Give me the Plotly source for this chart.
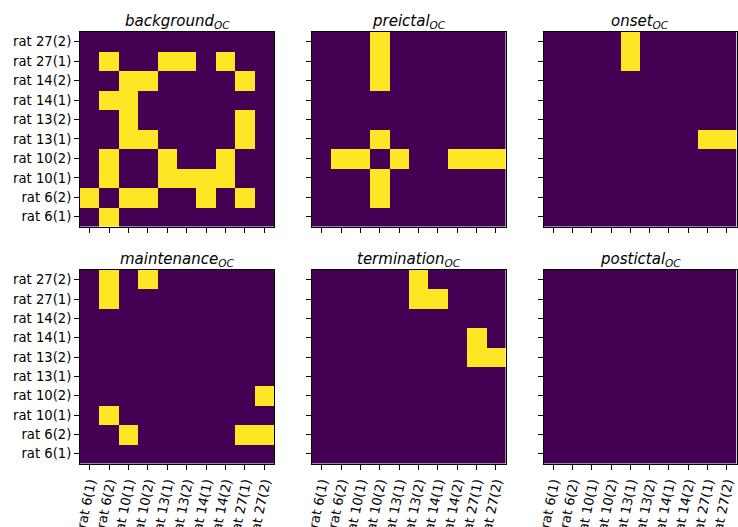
import plotly.graph_objects as go

labels = ["rat 6(1)", "rat 6(2)", "rat 10(1)", "rat 10(2)", "rat 13(1)",
          "rat 13(2)", "rat 14(1)", "rat 14(2)", "rat 27(1)", "rat 27(2)"]

# rows ordered bottom (rat 6(1)) to top (rat 27(2)); columns in label order
background = [
    [0, 1, 0, 0, 0, 0, 0, 0, 0, 0],
    [1, 0, 1, 1, 0, 0, 1, 0, 1, 0],
    [0, 1, 0, 0, 1, 1, 1, 1, 0, 0],
    [0, 1, 0, 0, 1, 0, 0, 1, 0, 0],
    [0, 0, 1, 1, 0, 0, 0, 0, 1, 0],
    [0, 0, 1, 0, 0, 0, 0, 0, 1, 0],
    [0, 1, 1, 0, 0, 0, 0, 0, 0, 0],
    [0, 0, 1, 1, 0, 0, 0, 0, 1, 0],
    [0, 1, 0, 0, 1, 1, 0, 1, 0, 0],
    [0, 0, 0, 0, 0, 0, 0, 0, 0, 0],
]
preictal = [
    [0, 0, 0, 0, 0, 0, 0, 0, 0, 0],
    [0, 0, 0, 1, 0, 0, 0, 0, 0, 0],
    [0, 0, 0, 1, 0, 0, 0, 0, 0, 0],
    [0, 1, 1, 0, 1, 0, 0, 1, 1, 1],
    [0, 0, 0, 1, 0, 0, 0, 0, 0, 0],
    [0, 0, 0, 0, 0, 0, 0, 0, 0, 0],
    [0, 0, 0, 0, 0, 0, 0, 0, 0, 0],
    [0, 0, 0, 1, 0, 0, 0, 0, 0, 0],
    [0, 0, 0, 1, 0, 0, 0, 0, 0, 0],
    [0, 0, 0, 1, 0, 0, 0, 0, 0, 0],
]
onset = [
    [0, 0, 0, 0, 0, 0, 0, 0, 0, 0],
    [0, 0, 0, 0, 0, 0, 0, 0, 0, 0],
    [0, 0, 0, 0, 0, 0, 0, 0, 0, 0],
    [0, 0, 0, 0, 0, 0, 0, 0, 0, 0],
    [0, 0, 0, 0, 0, 0, 0, 0, 1, 1],
    [0, 0, 0, 0, 0, 0, 0, 0, 0, 0],
    [0, 0, 0, 0, 0, 0, 0, 0, 0, 0],
    [0, 0, 0, 0, 0, 0, 0, 0, 0, 0],
    [0, 0, 0, 0, 1, 0, 0, 0, 0, 0],
    [0, 0, 0, 0, 1, 0, 0, 0, 0, 0],
]
maintenance = [
    [0, 0, 0, 0, 0, 0, 0, 0, 0, 0],
    [0, 0, 1, 0, 0, 0, 0, 0, 1, 1],
    [0, 1, 0, 0, 0, 0, 0, 0, 0, 0],
    [0, 0, 0, 0, 0, 0, 0, 0, 0, 1],
    [0, 0, 0, 0, 0, 0, 0, 0, 0, 0],
    [0, 0, 0, 0, 0, 0, 0, 0, 0, 0],
    [0, 0, 0, 0, 0, 0, 0, 0, 0, 0],
    [0, 0, 0, 0, 0, 0, 0, 0, 0, 0],
    [0, 1, 0, 0, 0, 0, 0, 0, 0, 0],
    [0, 1, 0, 1, 0, 0, 0, 0, 0, 0],
]
termination = [
    [0, 0, 0, 0, 0, 0, 0, 0, 0, 0],
    [0, 0, 0, 0, 0, 0, 0, 0, 0, 0],
    [0, 0, 0, 0, 0, 0, 0, 0, 0, 0],
    [0, 0, 0, 0, 0, 0, 0, 0, 0, 0],
    [0, 0, 0, 0, 0, 0, 0, 0, 0, 0],
    [0, 0, 0, 0, 0, 0, 0, 0, 1, 1],
    [0, 0, 0, 0, 0, 0, 0, 0, 1, 0],
    [0, 0, 0, 0, 0, 0, 0, 0, 0, 0],
    [0, 0, 0, 0, 0, 1, 1, 0, 0, 0],
    [0, 0, 0, 0, 0, 1, 0, 0, 0, 0],
]
postictal = [[0] * 10 for _ in range(10)]

panels = [("background", background), ("preictal", preictal), ("onset", onset),
          ("maintenance", maintenance), ("termination", termination), ("postictal", postictal)]

W, H = 738, 527
xdoms = [(80, 274), (312, 505.5), (543.5, 736.5)]
ydoms = [(32, 226.5), (270, 463.5)]

fig = go.Figure()
font = "DejaVu Sans, Verdana, sans-serif"
annotations = []
for i, (name, z) in enumerate(panels):
    r, c = divmod(i, 3)
    k = "" if i == 0 else str(i + 1)
    x0, x1 = xdoms[c]
    yt, yb = ydoms[r]
    fig.add_trace(go.Heatmap(
        z=z, x=labels, y=labels, zmin=0, zmax=1,
        colorscale=[[0, "#440154"], [1, "#fde725"]], showscale=False,
        xaxis="x" + k, yaxis="y" + k, hoverinfo="x+y+z"))
    common = dict(showline=True, mirror=True, linecolor="black", linewidth=1,
                  ticks="outside", ticklen=5, tickwidth=1, tickcolor="black",
                  showgrid=False, zeroline=False, range=[-0.5, 9.5],
                  tickfont=dict(family=font, size=13.2, color="black"),
                  automargin=False, fixedrange=True)
    fig.update_layout(**{
        "xaxis" + k: dict(domain=[x0 / W, x1 / W], anchor="y" + k,
                          showticklabels=(r == 1), tickangle=-78, **common),
        "yaxis" + k: dict(domain=[1 - yb / H, 1 - yt / H], anchor="x" + k,
                          showticklabels=(c == 0), **common),
    })
    annotations.append(dict(
        text="<i>%s<sub>OC</sub></i>" % name, xref="paper", yref="paper",
        x=(x0 + x1) / 2 / W, y=1 - (yt + 1) / H, xanchor="center", yanchor="bottom",
        showarrow=False, font=dict(family=font, size=15, color="black")))

fig.update_layout(width=W, height=H, margin=dict(l=0, r=0, t=0, b=0),
                  plot_bgcolor="white", paper_bgcolor="white",
                  annotations=annotations, showlegend=False)
fig.write_html("out.html", config={"displayModeBar": False},
               post_script="document.body.style.margin='0';document.body.style.overflow='hidden';")
